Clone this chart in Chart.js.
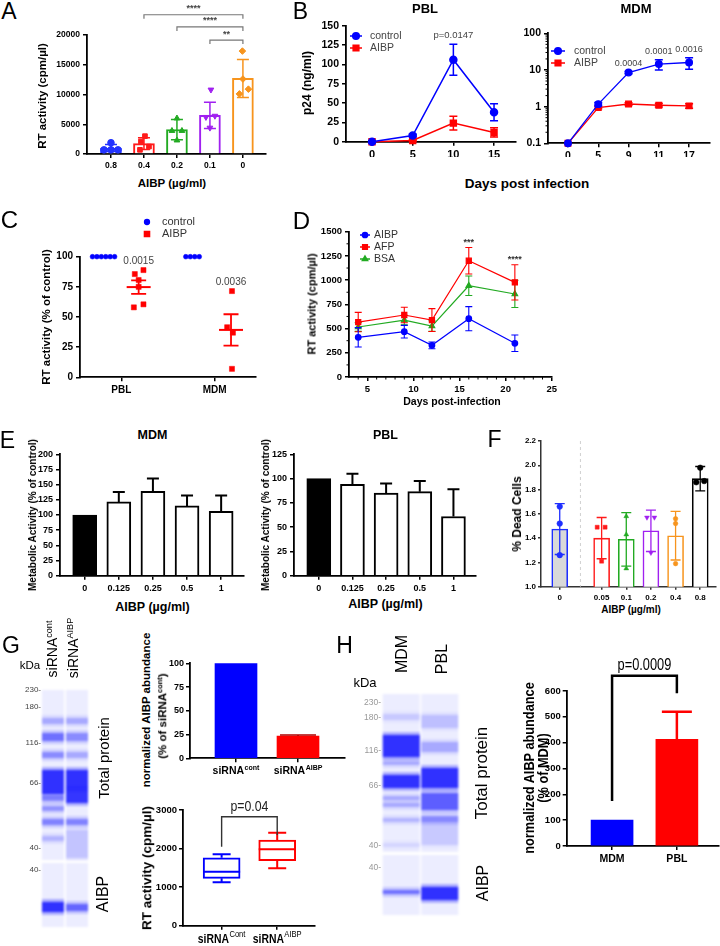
<!DOCTYPE html>
<html><head><meta charset="utf-8"><title>Figure</title>
<script src="https://cdn.jsdelivr.net/npm/chart.js@4.4.1/dist/chart.umd.min.js"></script>
<style>
html,body{margin:0;padding:0;background:#fff;}
#root{position:relative;width:720px;height:946px;overflow:hidden;font-family:"Liberation Sans",Arial,sans-serif;color:#000;}
#root canvas{position:absolute;}
.t{position:absolute;white-space:nowrap;line-height:1;}
.t sup{font-size:0.65em;vertical-align:0.55em;line-height:0;}
</style></head><body><div id="root"></div>
<script>
// ================= DATA =================
// Panel A
const aDoses = ['0.8', '0.4', '0.2', '0.1', '0'];
const aMean = [1000, 1750, 4100, 6500, 12700];
const aSD = [600, 1000, 1700, 2200, 3200];
const aPoints = [[1900, 700, 700, 700], [3000, 2100, 700, 1250], [6000, 3900, 3900, 2300], [10800, 6200, 6400, 4400], [17300, 12600, 10100, 10900]];
const aYTicks = [0, 5000, 10000, 15000, 20000];
const aSigFrom = [1, 2, 3];
const aSigTo = [4, 4, 4];
const aSigLevel = [23400, 21350, 19150];
const aSigText = ['****', '****', '**'];
// Panel B
const pblDays = [0, 5, 10, 15];
const pblControl = [0, 8, 106, 38];
const pblControlSD = [0.6, 1.5, 20, 11];
const pblAibp = [0, 1.5, 24, 12];
const pblAibpSD = [0.6, 1, 9, 6];
const pblYTicks = [0, 25, 50, 75, 100, 125, 150];
const pblP = 'p=0.0147';
const mdmDays = ['0', '5', '9', '11', '17'];
const mdmControl = [0.1, 1.17, 8.5, 14.5, 16];
const mdmControlSD = [0, 0.12, 0.6, 4.5, 5.5];
const mdmAibp = [0.1, 0.94, 1.18, 1.09, 1.05];
const mdmAibpSD = [0, 0.06, 0.1, 0.12, 0.14];
const mdmYTicks = [0.1, 1, 10, 100];
const mdmP = ['', '', '0.0004', '0.0001', '0.0016'];
// Panel C
const cCells = ['PBL', 'MDM'];
const cControl = [[100, 100, 100, 100, 100, 100], [100, 100, 100, 100]];
const cAibp = [[85.6, 88.9, 80.7, 75, 58, 60.5], [71.5, 41.5, 37, 7]];
const cAibpMean = [74.8, 39.3];
const cAibpSEM = [5.6, 13];
const cP = ['0.0015', '0.0036'];
const cYTicks = [0, 25, 50, 75, 100];
// Panel D
const dDays = [4, 9, 12, 16, 21];
const dAibp = [410, 468, 327, 602, 348];
const dAibpSD = [100, 65, 35, 125, 85];
const dAfp = [567, 640, 588, 1200, 977];
const dAfpSD = [100, 80, 118, 137, 182];
const dBsa = [516, 588, 526, 942, 857];
const dBsaSD = [45, 50, 55, 100, 140];
const dStars = ['', '', '', '***', '****'];
const dXTicks = [5, 10, 15, 20, 25];
const dYTicks = [0, 250, 500, 750, 1000, 1250, 1500];
// Panel E
const eDoses = ['0', '0.125', '0.25', '0.5', '1'];
const eMdm = [100, 121.5, 139, 115, 106];
const eMdmSD = [0, 16.5, 21, 17, 26];
const ePbl = [100, 94, 85, 86.5, 61];
const ePblSD = [0, 11, 10, 11, 28];
const eMdmYTicks = [0, 25, 50, 75, 100, 125, 150, 175, 200];
const ePblYTicks = [0, 25, 50, 75, 100, 125];
// Panel F
const fDoses = ['0', '0.05', '0.1', '0.2', '0.4', '0.8'];
const fMean = [1.475, 1.40, 1.39, 1.46, 1.42, 1.89];
const fSD = [0.21, 0.17, 0.22, 0.17, 0.20, 0.10];
const fPoints = [[1.66, 1.52, 1.26], [1.49, 1.49, 1.21], [1.58, 1.43, 1.15], [1.57, 1.57, 1.28], [1.56, 1.52, 1.19], [1.98, 1.86, 1.87]];
const fYTicks = [1.0, 1.2, 1.4, 1.6, 1.8, 2.0, 2.2];
// Panel G
const gSup = ['cont', 'AIBP'];
const gAbundance = [100, 23.5];
const gAbundanceSD = [0, 1];
const gAbundanceYTicks = [0, 25, 50, 75, 100];
const gBox = [[1124, 1228, 1400, 1762, 1850], [1487, 1685, 1980, 2220, 2410]]; // min, q1, median, q3, max
const gBoxYTicks = [0, 1000, 2000, 3000];
const gP = 'p=0.04';
const gKda = ['230', '180', '116', '66', '40', '40'];
// blot bands: [top, bottom, intensity] along the lane
const gLaneCont = [[28, 34, 0.3], [43, 51, 0.6], [62, 68, 0.45], [80, 104, 1.0], [106, 111, 0.5], [116, 121, 0.4], [129, 135, 0.5], [146, 151, 0.25], [212, 222, 1.0]];
const gLaneKd = [[28, 34, 0.3], [43, 51, 0.45], [62, 68, 0.3], [80, 99, 1.0], [99, 113, 0.95], [129, 135, 0.5], [140, 168, 0.18], [214, 221, 0.65]];
const gLaneBg = [[0, 170], [173, 237]];
// Panel H
const hCells = ['MDM', 'PBL'];
const hAbundance = [100, 413];
const hAbundanceSD = [0, 107];
const hYTicks = [0, 100, 200, 300, 400, 500, 600];
const hP = 'p=0.0009';
const hKda = ['230', '180', '116', '66', '40', '40'];
const hLaneMdm = [[20, 26, 0.15], [41, 63, 1.0], [67, 71, 0.3], [81, 94, 1.0], [102, 106, 0.3], [109, 113, 0.3], [124, 128, 0.25], [149, 153, 0.1], [196, 200, 0.6]];
const hLanePbl = [[21, 34, 0.2], [48, 58, 0.3], [74, 94, 1.0], [99, 116, 0.7], [122, 128, 0.45], [128, 151, 0.15], [193, 206, 1.0]];
const hLaneBg = [[0, 158], [161, 221]];

// ================= STYLE / LAYOUT =================
const FONT = '"Liberation Sans", Arial, sans-serif';
const BLUE = '#0000ff', RED = '#ff0000', GREEN = '#22aa22';
const aColors = ['#2233ff', '#ff1a1a', '#22aa22', '#a020f0', '#f7941d'];
const aShapes = ['circle', 'rect', 'triangle', 'triangle', 'rectRot'];
const aRot = [0, 0, 0, 180, 0];
const aJitterPx = [[0, -7, 0, 7], [1, -3, -4, 5], [0, -5, 5, 0], [1, -4, 5, 0], [-0.5, 0, -3.5, 5.5]];
const cCtrlJitterPx = [[-30, -25.4, -20.8, -16.2, -11.6, -7], [-30, -25.3, -20.7, -16]];
const cAibpJitterPx = [[14, 23, 18, 18, 13, 23], [18, 13, 19, 18]];
const cMeanOffPx = [18, 17];
const fSlot = [0, 1.7, 2.7, 3.7, 4.7, 5.7];
const fColors = ['#1f2fff', '#ff1a1a', '#22aa22', '#a020f0', '#f7941d', '#000000'];
const fFill = ['#d9d9d9', '#fff', '#fff', '#fff', '#fff', '#fff'];
const fShapes = ['circle', 'rect', 'triangle', 'triangle', 'circle', 'circle'];
const fRot = [0, 0, 0, 180, 0, 0];
const fJitterPx = [[0, 0, 0], [-4.5, 3.5, 0], [0, 0, 0], [-4, 3.5, 0], [0, 0, 0], [0, -4, 4]];

Chart.defaults.font.family = FONT;
Chart.defaults.animation = false;
Chart.defaults.responsive = false;
Chart.defaults.maintainAspectRatio = false;
Chart.defaults.events = [];
Chart.defaults.color = '#000';
Chart.defaults.plugins.legend.display = false;
Chart.defaults.plugins.tooltip.enabled = false;

const root = document.getElementById('root');

function txt(s, cx, cy, size, o) {
  o = o || {};
  const d = document.createElement('div');
  d.className = 't';
  d.innerHTML = s;
  d.style.left = cx + 'px';
  d.style.top = cy + 'px';
  d.style.fontSize = size + 'px';
  if (o.b) d.style.fontWeight = 'bold';
  if (o.color) d.style.color = o.color;
  const tr = o.right ? 'translate(-100%,-50%)' : 'translate(-50%,-50%)';
  d.style.transform = tr + (o.rot ? ' rotate(' + o.rot + 'deg)' : '') + (o.sx ? ' scaleX(' + o.sx + ')' : '');
  root.appendChild(d);
}

function mkCanvas(cv) {
  const c = document.createElement('canvas');
  c.width = cv.w; c.height = cv.h;
  c.style.left = cv.x + 'px'; c.style.top = cv.y + 'px';
  c.style.width = cv.w + 'px'; c.style.height = cv.h + 'px';
  root.appendChild(c);
  return c;
}

function frame(cv, p) {
  return { pad: { left: 0, top: p.y0 - cv.y, right: cv.x + cv.w - p.x1, bottom: 0 }, yW: p.x0 - cv.x, xH: cv.y + cv.h - p.y1 };
}

function axisBase(o) {
  const s = {
    type: o.type || 'linear', offset: false, min: o.min, max: o.max,
    grid: { display: true, offset: false, drawOnChartArea: false, drawTicks: true, tickLength: o.tl || 4, color: o.axisColor || '#000', lineWidth: 1.5 },
    border: { display: true, color: o.axisColor || '#000', width: o.bw || 1.8 },
    ticks: { font: { family: FONT, size: o.size || 9, weight: 'bold' }, color: '#000', padding: (o.pad != null ? o.pad : 2), maxRotation: 0, minRotation: 0, autoSkip: false }
  };
  if (o.ticks) { const tv = o.ticks; s.afterBuildTicks = sc => { sc.ticks = tv.map(v => ({ value: v })); }; }
  if (o.labels) { const lb = o.labels; s.ticks.callback = (v, i) => lb[i]; }
  else s.ticks.callback = v => String(v);
  return s;
}
function sx(f, o) { const s = axisBase(o); s.position = 'bottom'; s.afterFit = sc => { sc.height = f.xH; }; return s; }
function sy(f, o) { const s = axisBase(o); s.position = 'left'; s.afterFit = sc => { sc.width = f.yW; }; return s; }

// error bars drawn from the dataset values through the y scale
const errP = {
  id: 'errP',
  afterDatasetDraw(chart, args) {
    const ds = chart.data.datasets[args.index];
    const eb = ds.errBars; if (!eb) return;
    const meta = args.meta; const ys = chart.scales[meta.yAxisID]; const ctx = chart.ctx;
    ctx.save(); ctx.lineWidth = eb.width || 1.5;
    meta.data.forEach((el, j) => {
      const e = eb.values[j]; if (!e) return;
      const raw = ds.data[j]; if (raw == null) return;
      const v = typeof raw === 'object' ? raw.y : raw;
      ctx.strokeStyle = Array.isArray(eb.color) ? eb.color[j] : eb.color;
      const x = el.x;
      const t = ys.getPixelForValue(v + e), b = ys.getPixelForValue(eb.up ? v : v - e);
      ctx.beginPath();
      ctx.moveTo(x, t); ctx.lineTo(x, b);
      ctx.moveTo(x - eb.cap, t); ctx.lineTo(x + eb.cap, t);
      if (!eb.up) { ctx.moveTo(x - eb.cap, b); ctx.lineTo(x + eb.cap, b); }
      ctx.stroke();
    });
    ctx.restore();
  }
};

function drawText(ctx, s, x, y, sxf) {
  ctx.save(); ctx.translate(x, y); ctx.scale(sxf || 1, 1); ctx.fillText(s, 0, 0); ctx.restore();
}

function annP(items) {
  return {
    id: 'annP',
    afterDraw(chart) {
      const ctx = chart.ctx, xs = chart.scales.x, ys = chart.scales.y, ca = chart.chartArea;
      const X = v => xs.getPixelForValue(v), Y = v => ys.getPixelForValue(v);
      items.forEach(it => {
        ctx.save();
        if (it.t === 'text') {
          ctx.font = it.font; ctx.fillStyle = it.color || '#000'; ctx.textAlign = 'center'; ctx.textBaseline = 'middle';
          drawText(ctx, it.text, X(it.x) + (it.dx || 0), Y(it.y) + (it.dy || 0), it.sx);
        } else if (it.t === 'br') {
          const y = Y(it.y);
          const a = it.ya != null ? Y(it.ya) : y + it.drop;
          const b = it.yb != null ? Y(it.yb) : y + it.drop;
          ctx.strokeStyle = it.color || '#000'; ctx.lineWidth = it.lw || 1;
          ctx.beginPath(); ctx.moveTo(X(it.x1), a); ctx.lineTo(X(it.x1), y); ctx.lineTo(X(it.x2), y); ctx.lineTo(X(it.x2), b); ctx.stroke();
          if (it.text) {
            ctx.font = it.font; ctx.fillStyle = it.tcolor || '#000'; ctx.textAlign = 'center'; ctx.textBaseline = 'middle';
            drawText(ctx, it.text, (X(it.x1) + X(it.x2)) / 2, y + it.tdy, it.sx);
          }
        } else if (it.t === 'vline') {
          ctx.strokeStyle = it.color; ctx.setLineDash(it.dash); ctx.lineWidth = 1;
          ctx.beginPath(); ctx.moveTo(X(it.x), ca.top); ctx.lineTo(X(it.x), ca.bottom); ctx.stroke();
        }
        ctx.restore();
      });
    }
  };
}

function legP(cv, items, font, color) {
  return {
    id: 'legP',
    afterDraw(chart) {
      const ctx = chart.ctx;
      items.forEach(it => {
        const x = it.x - cv.x, y = it.y - cv.y;
        ctx.save(); ctx.strokeStyle = it.color; ctx.fillStyle = it.color; ctx.lineWidth = 1.5;
        if (it.line) { ctx.beginPath(); ctx.moveTo(x - it.line, y); ctx.lineTo(x + it.line, y); ctx.stroke(); }
        Chart.helpers.drawPoint(ctx, { pointStyle: it.style, radius: it.r, rotation: 0, borderWidth: 1 }, x, y);
        ctx.font = font; ctx.fillStyle = color; ctx.textAlign = 'left'; ctx.textBaseline = 'middle';
        ctx.fillText(it.text, x + it.tx, y);
        ctx.restore();
      });
    }
  };
}

function minorP(xv, yv, len) {
  return {
    id: 'minorP',
    afterDraw(chart) {
      const ctx = chart.ctx, ca = chart.chartArea;
      ctx.save(); ctx.strokeStyle = '#000'; ctx.lineWidth = 1; ctx.beginPath();
      xv.forEach(v => { const p = chart.scales.x.getPixelForValue(v); ctx.moveTo(p, ca.bottom); ctx.lineTo(p, ca.bottom + len); });
      yv.forEach(v => { const p = chart.scales.y.getPixelForValue(v); ctx.moveTo(ca.left, p); ctx.lineTo(ca.left - len, p); });
      ctx.stroke(); ctx.restore();
    }
  };
}

function supP(cv, items, yPage, f1, f2, raise, sxf) {
  return {
    id: 'supP',
    afterDraw(chart) {
      const ctx = chart.ctx, xs = chart.scales.x, y = yPage - cv.y, k = sxf || 1;
      items.forEach(it => {
        ctx.save(); ctx.fillStyle = '#000'; ctx.textBaseline = 'alphabetic'; ctx.textAlign = 'left';
        ctx.font = f1; const w1 = ctx.measureText(it.main).width;
        ctx.font = f2; const w2 = ctx.measureText(it.sup).width;
        ctx.translate(xs.getPixelForValue(it.x), y); ctx.scale(k, 1);
        const x0 = -(w1 + w2 + 0.5) / 2;
        ctx.font = f1; ctx.fillText(it.main, x0, 0);
        ctx.font = f2; ctx.fillText(it.sup, x0 + w1 + 0.5, -raise);
        ctx.restore();
      });
    }
  };
}

function boxP(boxes, colors, capHalf) {
  return {
    id: 'boxP',
    afterDatasetsDraw(chart) {
      const ctx = chart.ctx, ys = chart.scales.y, meta = chart.getDatasetMeta(0);
      boxes.forEach((b, i) => {
        const el = meta.data[i]; const x = el.x, w = el.width;
        const Y = v => ys.getPixelForValue(v);
        ctx.save(); ctx.strokeStyle = colors[i]; ctx.lineWidth = 2; ctx.beginPath();
        ctx.moveTo(x, Y(b[3])); ctx.lineTo(x, Y(b[4]));
        ctx.moveTo(x - capHalf, Y(b[4])); ctx.lineTo(x + capHalf, Y(b[4]));
        ctx.moveTo(x, Y(b[1])); ctx.lineTo(x, Y(b[0]));
        ctx.moveTo(x - capHalf, Y(b[0])); ctx.lineTo(x + capHalf, Y(b[0]));
        ctx.moveTo(x - w / 2, Y(b[2])); ctx.lineTo(x + w / 2, Y(b[2]));
        ctx.stroke(); ctx.restore();
      });
    }
  };
}

function makeChart(cv, plot, type, datasets, xo, yo, plugins) {
  const f = frame(cv, plot);
  return new Chart(mkCanvas(cv), {
    type: type,
    data: { datasets: datasets },
    options: { layout: { padding: f.pad }, scales: { x: sx(f, xo), y: sy(f, yo) } },
    plugins: [errP].concat(plugins || [])
  });
}
function pxPerUnit(plot, xo) { return (plot.x1 - plot.x0) / (xo.max - xo.min); }

function blot(cv, lanes, bgs, blurPx, barPct) {
  const ds = [];
  bgs.forEach(r => ds.push({ data: [r, r], backgroundColor: 'rgba(120,130,255,0.14)' }));
  lanes.forEach((bands, li) => bands.forEach(b => {
    const mkd = (t, bt, a) => ({ data: li === 0 ? [[t, bt], null] : [null, [t, bt]], backgroundColor: 'rgba(10,10,255,' + a + ')' });
    ds.push(mkd(b[0] - 3, b[1] + 3, b[2] * 0.3));
    ds.push(mkd(b[0], b[1], b[2] * 0.85));
  }));
  ds.forEach(d => { d.grouped = false; d.borderWidth = 0; d.barPercentage = barPct; d.categoryPercentage = 1; });
  const c = mkCanvas(cv); c.style.filter = 'blur(' + blurPx + 'px)';
  new Chart(c, {
    type: 'bar', data: { labels: ['1', '2'], datasets: ds },
    options: { layout: { padding: 0 }, scales: { x: { display: false }, y: { display: false, min: 0, max: cv.h, reverse: true } } }
  });
}

// ================= PANEL A =================
(function () {
  const cv = { x: 40, y: 0, w: 232, h: 175 }, plot = { x0: 87, y0: 35, x1: 266, y1: 154 };
  const xo = { min: -0.727, max: 4.70, ticks: [0, 1, 2, 3, 4], labels: aDoses, size: 8.5, pad: 3 };
  const u = pxPerUnit(plot, xo);
  const ds = [{
    type: 'bar', order: 2, data: aMean.map((v, i) => ({ x: i, y: v })), backgroundColor: '#fff', borderColor: aColors, borderWidth: 2, barThickness: 21,
    errBars: { values: aSD, cap: 6, color: aColors, width: 1.5 }
  }];
  aPoints.forEach((pts, i) => ds.push({
    type: 'scatter', order: 1, clip: false, data: pts.map((v, k) => ({ x: i + aJitterPx[i][k] / u, y: v })),
    pointStyle: aShapes[i], pointRotation: aRot[i], pointRadius: 3.3, backgroundColor: aColors[i], borderColor: aColors[i], borderWidth: 1
  }));
  const ann = aSigText.map((s, k) => ({ t: 'br', x1: aSigFrom[k], x2: aSigTo[k], y: aSigLevel[k], drop: 4, color: '#777', lw: 1.2, text: s, font: 'bold 9px ' + FONT, tcolor: '#444', tdy: -6 }));
  makeChart(cv, plot, 'bar', ds, xo, { min: 0, max: 20000, ticks: aYTicks, size: 8.5, pad: 3 }, [annP(ann)]);
  txt('A', 9, 11, 23);
  txt('RT activity (cpm/µl)', 43, 96, 11.5, { b: 1, rot: -90 });
  txt('AIBP (µg/ml)', 172, 184, 11.5, { b: 1 });
})();

// ================= PANEL B =================
(function () {
  const cv = { x: 290, y: 15, w: 232, h: 142 }, plot = { x0: 346, y0: 25.7, x1: 516, y1: 141.7 };
  const ds = [
    { type: 'line', data: pblDays.map((d, i) => ({ x: d, y: pblControl[i] })), borderColor: BLUE, backgroundColor: BLUE, borderWidth: 1.5, pointStyle: 'circle', pointRadius: 3.5, clip: false, errBars: { values: pblControlSD, cap: 4, color: BLUE } },
    { type: 'line', data: pblDays.map((d, i) => ({ x: d, y: pblAibp[i] })), borderColor: RED, backgroundColor: RED, borderWidth: 1.5, pointStyle: 'rect', pointRadius: 4.2, clip: false, errBars: { values: pblAibpSD, cap: 4, color: RED } }
  ];
  makeChart(cv, plot, 'line', ds,
    { min: -3.2, max: 17.7, ticks: pblDays, size: 11, pad: 3 },
    { min: 0, max: 150, ticks: pblYTicks, size: 10.5, pad: 3 },
    [annP([{ t: 'text', x: 10, y: 137, text: pblP, font: '9.5px ' + FONT, color: '#444' }]),
     legP(cv, [{ x: 356, y: 36, style: 'circle', r: 3.3, color: BLUE, line: 6, text: 'control', tx: 14 }, { x: 356, y: 48, style: 'rect', r: 4, color: RED, line: 6, text: 'AIBP', tx: 14 }], '10.5px ' + FONT, '#444')]);

  const cv2 = { x: 505, y: 20, w: 215, h: 137 }, plot2 = { x0: 548, y0: 33.3, x1: 710, y1: 143.3 };
  const ds2 = [
    { type: 'line', data: mdmControl.map((v, i) => ({ x: i, y: v })), borderColor: BLUE, backgroundColor: BLUE, borderWidth: 1.3, pointStyle: 'circle', pointRadius: 3.3, clip: false, errBars: { values: mdmControlSD, cap: 4, color: BLUE } },
    { type: 'line', data: mdmAibp.map((v, i) => ({ x: i, y: v })), borderColor: RED, backgroundColor: RED, borderWidth: 1.3, pointStyle: 'rect', pointRadius: 4, clip: false, errBars: { values: mdmAibpSD, cap: 4, color: RED } }
  ];
  const minors = [];
  [0.1, 1, 10].forEach(dec => { for (let m = 2; m <= 9; m++) minors.push(dec * m); });
  const mdmAnn = [];
  mdmP.forEach((s, i) => { if (s) mdmAnn.push({ t: 'text', x: i, y: mdmControl[i] + mdmControlSD[i], dy: -8, text: s, font: '9px ' + FONT, color: '#444' }); });
  makeChart(cv2, plot2, 'line', ds2,
    { min: -0.66, max: 4.69, ticks: [0, 1, 2, 3, 4], labels: mdmDays, size: 10.5, pad: 3 },
    { type: 'logarithmic', min: 0.1, max: 100, ticks: mdmYTicks, labels: ['0.1', '1', '10', '100'], size: 10.5, pad: 3 },
    [annP(mdmAnn), minorP([], minors, 2.5),
     legP(cv2, [{ x: 558, y: 51, style: 'circle', r: 3.3, color: BLUE, line: 7, text: 'control', tx: 16 }, { x: 558, y: 63, style: 'rect', r: 4, color: RED, line: 7, text: 'AIBP', tx: 16 }], '10.5px ' + FONT, '#444')]);

  txt('B', 300.5, 11, 23);
  txt('PBL', 425, 8, 13, { b: 1 });
  txt('MDM', 636, 8, 13, { b: 1 });
  txt('p24 (ng/ml)', 307, 83, 12, { b: 1, rot: -90 });
  txt('Days post infection', 527, 184, 13.5, { b: 1 });
})();

// ================= PANEL C =================
(function () {
  const cv = { x: 50, y: 200, w: 220, h: 200 }, plot = { x0: 80, y0: 256.7, x1: 263, y1: 377.3 };
  const xo = { min: -0.443, max: 1.443, ticks: [0, 1], labels: cCells, size: 10, pad: 3 };
  const u = pxPerUnit(plot, xo);
  const ctrl = [], aibp = [];
  cControl.forEach((arr, g) => arr.forEach((v, k) => ctrl.push({ x: g + cCtrlJitterPx[g][k] / u, y: v })));
  cAibp.forEach((arr, g) => arr.forEach((v, k) => aibp.push({ x: g + cAibpJitterPx[g][k] / u, y: v })));
  const ds = [
    { type: 'scatter', data: ctrl, pointStyle: 'circle', pointRadius: 2.4, backgroundColor: BLUE, borderColor: BLUE, borderWidth: 0.5, clip: false },
    { type: 'scatter', data: aibp, pointStyle: 'rect', pointRadius: 3.6, backgroundColor: RED, borderColor: RED, borderWidth: 0.5, clip: false },
    { type: 'scatter', data: cAibpMean.map((v, g) => ({ x: g + cMeanOffPx[g] / u, y: v })), pointStyle: 'line', pointRadius: 12, borderColor: RED, backgroundColor: RED, borderWidth: 2, clip: false, errBars: { values: cAibpSEM, cap: 7.5, color: RED, width: 1.8 } }
  ];
  const ann = cP.map((s, g) => ({ t: 'text', x: g + cMeanOffPx[g] / u, y: Math.max.apply(null, cAibp[g]), dy: -9, text: s, font: '10px ' + FONT, color: '#444' }));
  makeChart(cv, plot, 'scatter', ds, xo,
    { min: 0, max: 100, ticks: cYTicks, size: 10, pad: 3 },
    [annP(ann), legP(cv, [{ x: 147, y: 222, style: 'circle', r: 2.4, color: BLUE, line: 0, text: 'control', tx: 15 }, { x: 147, y: 234, style: 'rect', r: 3.6, color: RED, line: 0, text: 'AIBP', tx: 15 }], '11px ' + FONT, '#333')]);
  txt('C', 9.5, 220, 24);
  txt('RT activity (% of control)', 47, 317, 11.5, { b: 1, rot: -90 });
})();

// ================= PANEL D =================
(function () {
  const cv = { x: 316, y: 222, w: 244, h: 175 }, plot = { x0: 349, y0: 231.7, x1: 554, y1: 377 };
  const mk = (vals, sd, col, shape, r) => ({ type: 'line', data: dDays.map((d, i) => ({ x: d, y: vals[i] })), borderColor: col, backgroundColor: col, borderWidth: 1.2, pointStyle: shape, pointRadius: r, clip: false, errBars: { values: sd, cap: 3.5, color: col, width: 1.1 } });
  const ds = [mk(dAibp, dAibpSD, BLUE, 'circle', 2.8), mk(dAfp, dAfpSD, RED, 'rect', 3.6), mk(dBsa, dBsaSD, GREEN, 'triangle', 3.2)];
  const ann = [];
  dStars.forEach((s, i) => { if (s) ann.push({ t: 'text', x: dDays[i], y: dAfp[i] + dAfpSD[i], dy: -5, text: s, font: 'bold 9px ' + FONT, color: '#333' }); });
  const xm = [], ym = [];
  for (let d = 4; d <= 24; d++) if (d % 5) xm.push(d);
  for (let v = 125; v < 1500; v += 250) ym.push(v);
  makeChart(cv, plot, 'line', ds,
    { min: 3, max: 25, ticks: dXTicks, size: 9.5, pad: 3 },
    { min: 0, max: 1500, ticks: dYTicks, size: 9.5, pad: 3 },
    [annP(ann), minorP(xm, ym, 2.5),
     legP(cv, [{ x: 365, y: 235, style: 'circle', r: 2.6, color: BLUE, line: 5, text: 'AIBP', tx: 9 }, { x: 365, y: 247, style: 'rect', r: 3.3, color: RED, line: 5, text: 'AFP', tx: 9 }, { x: 365, y: 259, style: 'triangle', r: 3, color: GREEN, line: 5, text: 'BSA', tx: 9 }], '10.5px ' + FONT, '#333')]);
  txt('D', 301.5, 221, 24);
  txt('RT activity (cpm/µl)', 312, 304, 11, { b: 1, rot: -90 });
  txt('Days post-infection', 452, 401, 10.5, { b: 1 });
})();

// ================= PANEL E =================
(function () {
  const bars = (vals, sd) => [{ type: 'bar', data: vals.map((v, i) => ({ x: i, y: v })), backgroundColor: vals.map((v, i) => i === 0 ? '#000' : '#fff'), borderColor: '#000', borderWidth: 2, barThickness: 24, errBars: { values: sd, cap: 6, color: '#000', width: 2, up: true } }];
  const cv = { x: 35, y: 445, w: 215, h: 150 }, plot = { x0: 60, y0: 454.3, x1: 244, y1: 575.7 };
  makeChart(cv, plot, 'bar', bars(eMdm, eMdmSD),
    { min: -0.724, max: 4.67, ticks: [0, 1, 2, 3, 4], labels: eDoses, size: 9, pad: 3 },
    { min: 0, max: 200, ticks: eMdmYTicks, size: 9, pad: 3 }, []);
  const cv2 = { x: 270, y: 445, w: 210, h: 150 }, plot2 = { x0: 294, y0: 454.3, x1: 476, y1: 575.7 };
  makeChart(cv2, plot2, 'bar', bars(ePbl, ePblSD),
    { min: -0.736, max: 4.67, ticks: [0, 1, 2, 3, 4], labels: eDoses, size: 9, pad: 3 },
    { min: 0, max: 125, ticks: ePblYTicks, size: 9, pad: 3 }, []);
  txt('E', 7.5, 439.5, 23);
  txt('MDM', 152.5, 435, 12.5, { b: 1 });
  txt('PBL', 385.5, 435, 12.5, { b: 1 });
  txt('Metabolic Activity (% of control)', 33, 515, 10, { b: 1, rot: -90 });
  txt('Metabolic Activity (% of control)', 266, 515, 10, { b: 1, rot: -90 });
  txt('AIBP (µg/ml)', 152.5, 607, 12.5, { b: 1 });
  txt('AIBP (µg/ml)', 385.5, 604, 12.5, { b: 1 });
})();

// ================= PANEL F =================
(function () {
  const cv = { x: 515, y: 432, w: 205, h: 172 }, plot = { x0: 541, y0: 441, x1: 717, y1: 586.7 };
  const xo = { min: -0.76, max: 6.32, ticks: fSlot, labels: fDoses, size: 8, pad: 3, axisColor: '#333', bw: 1.5, tl: 3 };
  const u = pxPerUnit(plot, xo);
  const ds = [{
    type: 'bar', order: 2, data: fMean.map((v, i) => ({ x: fSlot[i], y: v })), backgroundColor: fFill, borderColor: fColors, borderWidth: 1.6, barThickness: 16,
    errBars: { values: fSD, cap: 5, color: fColors, width: 1.3 }
  }];
  fPoints.forEach((pts, i) => ds.push({
    type: 'scatter', order: 1, clip: false, data: pts.map((v, k) => ({ x: fSlot[i] + fJitterPx[i][k] / u, y: v })),
    pointStyle: fShapes[i], pointRotation: fRot[i], pointRadius: i === 4 ? 2.3 : 2.8, backgroundColor: fColors[i], borderColor: fColors[i], borderWidth: 0.5
  }));
  makeChart(cv, plot, 'bar', ds, xo,
    { min: 1.0, max: 2.2, ticks: fYTicks, labels: fYTicks.map(v => v.toFixed(1)), size: 8, pad: 2, axisColor: '#333', bw: 1.5, tl: 3 },
    [annP([{ t: 'vline', x: 0.84, color: '#d0d0d0', dash: [3, 3] }])]);
  txt('F', 494.5, 438.5, 23);
  txt('% Dead Cells', 517, 514, 12, { b: 1, rot: -90 });
  txt('AIBP (µg/ml)', 631, 610, 10, { b: 1 });
})();

// ================= PANEL G =================
(function () {
  blot({ x: 41, y: 690, w: 48, h: 237 }, [gLaneCont, gLaneKd], gLaneBg, 1.1, 0.92);
  const kdaY = [690, 707, 743, 783, 848, 870];
  gKda.forEach((k, i) => txt(k + '-', 41, kdaY[i], 8, { right: 1, color: '#444' }));
  txt('G', 11, 644.5, 23);
  txt('kDa', 30, 665.5, 11.5);
  txt('siRNA<sup>cont</sup>', 52, 649, 14, { rot: -90 });
  txt('siRNA<sup>AIBP</sup>', 73, 648, 14, { rot: -90 });
  txt('Total protein', 103, 758, 15, { rot: -90 });
  txt('AIBP', 103, 894, 16, { rot: -90 });

  const cv = { x: 158, y: 650, w: 192, h: 130 }, plot = { x0: 190, y0: 663.3, x1: 345, y1: 758.3 };
  const ds = [{ type: 'bar', data: gAbundance.map((v, i) => ({ x: i, y: v })), backgroundColor: [BLUE, RED], borderWidth: 0, barThickness: 42, errBars: { values: gAbundanceSD, cap: 18, color: '#b00000', width: 1.5, up: true } }];
  makeChart(cv, plot, 'bar', ds,
    { min: -0.742, max: 1.758, ticks: [0, 1], labels: ['', ''], size: 9, pad: 3 },
    { min: 0, max: 100, ticks: gAbundanceYTicks, size: 9, pad: 2 },
    [supP(cv, gSup.map((s, i) => ({ x: i, main: 'siRNA', sup: s })), 774, 'bold 10.5px ' + FONT, 'bold 7px ' + FONT, 4.5, 1)]);
  txt('normalized AIBP abundance', 147, 710, 11.5, { b: 1, rot: -90 });
  txt('(% of siRNA<sup>cont</sup>)', 163, 716, 11.5, { b: 1, rot: -90 });

  const cv2 = { x: 140, y: 795, w: 185, h: 151 }, plot2 = { x0: 183, y0: 810, x1: 315, y1: 925.7 };
  const ds2 = [{ type: 'bar', data: gBox.map((b, i) => ({ x: i, y: [b[1], b[3]] })), backgroundColor: '#fff', borderColor: [BLUE, RED], borderWidth: 2, borderSkipped: false, barThickness: 37 }];
  makeChart(cv2, plot2, 'bar', ds2,
    { min: -0.695, max: 1.68, ticks: [0, 1], labels: ['', ''], size: 9, pad: 3 },
    { min: 0, max: 3000, ticks: gBoxYTicks, size: 9.5, pad: 2 },
    [boxP(gBox, [BLUE, RED], 9),
     annP([{ t: 'br', x1: 0, x2: 1, y: 2824, ya: 2047, yb: 2350, color: '#333', lw: 1.4, text: gP, font: '15px ' + FONT, tcolor: '#222', tdy: -10, sx: 0.82 }]),
     supP(cv2, gSup.map((s, i) => ({ x: i, main: 'siRNA', sup: s === 'cont' ? 'Cont' : s })), 943, 'bold 13px ' + FONT, '9.5px ' + FONT, 6, 0.8)]);
  txt('RT activity (cpm/µl)', 147, 868, 13.5, { b: 1, rot: -90 });
})();

// ================= PANEL H =================
(function () {
  blot({ x: 382, y: 694, w: 77, h: 222 }, [hLaneMdm, hLanePbl], hLaneBg, 1.2, 0.96);
  const kdaY = [701.7, 717.3, 750, 785, 845, 867.3];
  hKda.forEach((k, i) => txt(k + '-', 381, kdaY[i], 8.5, { right: 1, color: '#999' }));
  txt('H', 344.5, 645, 23);
  txt('kDa', 365, 682, 13);
  txt('MDM', 401.7, 654, 16, { rot: -90 });
  txt('PBL', 441.7, 659, 16, { rot: -90 });
  txt('Total protein', 481, 773, 17, { rot: -90 });
  txt('AIBP', 483, 883, 16, { rot: -90 });

  const cv = { x: 530, y: 655, w: 190, h: 215 }, plot = { x0: 566.7, y0: 691, x1: 719, y1: 846 };
  const ds = [{ type: 'bar', data: hAbundance.map((v, i) => ({ x: i, y: v })), backgroundColor: [BLUE, RED], borderWidth: 0, barThickness: 42, errBars: { values: hAbundanceSD, cap: 15, color: RED, width: 2.5, up: true } }];
  makeChart(cv, plot, 'bar', ds,
    { min: -0.70, max: 1.65, ticks: [0, 1], labels: hCells, size: 10.5, pad: 3 },
    { min: 0, max: 600, ticks: hYTicks, size: 9.5, pad: 2 },
    [annP([{ t: 'br', x1: 0, x2: 1, y: 659, ya: 174, yb: 591, color: '#000', lw: 2.5, text: hP, font: '16px ' + FONT, tcolor: '#000', tdy: -10, sx: 0.8 }])]);
  txt('normalized AIBP abundance', 528, 768, 15, { b: 1, rot: -90, sx: 0.85 });
  txt('(% of MDM)', 542, 768, 15, { b: 1, rot: -90, sx: 0.85 });
})();
</script></body></html>
